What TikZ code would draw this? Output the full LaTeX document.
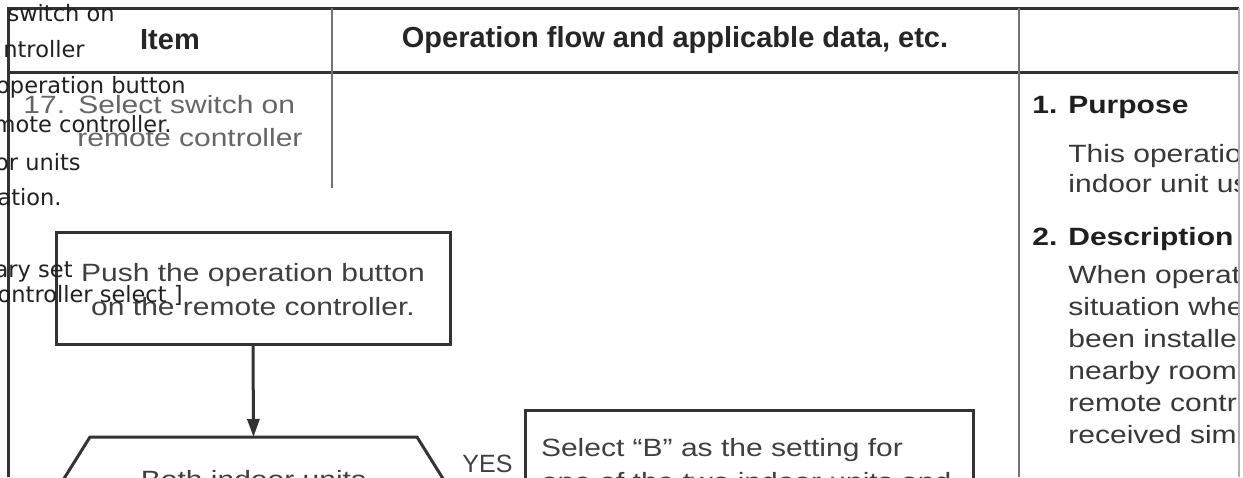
\documentclass[tikz,border=0pt]{standalone}
\usepackage{fontspec}
\setmainfont{Liberation Sans}
\newfontfamily\escaneo[FakeStretch=1.2]{Liberation Sans}
\newfontfamily\capa{DejaVu Sans}
\usepackage{tikz}
\usetikzlibrary{arrows.meta}
\definecolor{tinta}{HTML}{333333}
\tikzstyle{marco} = [draw=tinta, line width=1.5pt]
\tikzstyle{separador} = [draw=black!55, line width=1pt]
\tikzstyle{cabecera} = [font=\fontsize{14.5}{18}\selectfont\bfseries, text=black!85, inner sep=0pt]
\tikzstyle{texto} = [font=\escaneo\fontsize{12.5}{17}\selectfont, text=black!78, inner sep=0pt, anchor=base west]
\tikzstyle{apartado} = [font=\escaneo\fontsize{12.5}{17}\selectfont\bfseries, text=black!88, inner sep=0pt, anchor=base west]
\tikzstyle{caja} = [draw=tinta, line width=1.5pt, rectangle, outer sep=0pt, font=\escaneo\fontsize{12.5}{17}\selectfont, text=black!75]
\tikzstyle{decision} = [rectangle, outer sep=0pt, inner xsep=0pt, inner ysep=16.5pt, minimum width=163.5pt, text height=9pt, text depth=0pt, font=\escaneo\fontsize{12.5}{17}\selectfont, text=black!75]
\tikzstyle{flecha} = [draw=tinta, line width=1.5pt, -{Triangle[length=9pt,width=6pt]}]
\tikzstyle{fantasma} = [font=\capa\fontsize{11.25}{13}\selectfont, text=black!87, inner sep=0pt, anchor=base east]

\begin{document}
\begin{tikzpicture}[x=0.5pt,y=-0.5pt]
	\useasboundingbox (0,0) rectangle (1243,477);
	\fill[white] (0,0) rectangle (1243,477);
	\clip (0,0) rectangle (1243,477);

	% tabla
	\draw[marco] (8,477) -- (8,8) -- (1239,8);
	\draw[marco] (8,72) -- (1239,72);
	\draw[separador] (332,8) -- (332,188);
	\draw[separador] (1019,8) -- (1019,477);
	\draw[draw=black!30, line width=1pt] (1239,8) -- (1239,477);
	\node[cabecera] (item) at (170,40) {Item};
	\node[cabecera] (flujo) at (675,40) {Operation flow and applicable data, etc.};
	\node[texto, text=black!60] (sel1) at (23,113) {\makebox[27.5pt][l]{17.}Select switch on};
	\node[texto, text=black!60] (sel2) at (77,146) {remote controller};

	% diagrama
	\node[caja, anchor=north west, minimum width=197pt, minimum height=56pt, text height=27.6pt, align=center] (pulsar) at (56,232) {Push the operation button\\on the remote controller.};
	\node[decision, anchor=north] (ambas) at (253.5,437) {Both indoor units};
	\draw[marco] (ambas.north west) -- (ambas.north east) -- ++(37.5,60) -- ++(-37.5,60) -- ++(-327,0) -- ++(-37.5,-60) -- cycle;
	\draw[flecha] (pulsar.south) -- (ambas.north);
	\node[font=\fontsize{12.5}{15}\selectfont, text=black!75, inner sep=0pt, anchor=base west] (si) at (462,472) {YES};
	\node[caja, anchor=north west, text width=208pt, inner xsep=8pt, inner ysep=14pt, align=left] (elegir) at (525,410) {Select “B” as the setting for\\one of the two indoor units and};

	% columna derecha
	\begin{scope}
		\clip (1019,72) rectangle (1237,477);
		\node[apartado] (proposito) at (1032,113) {\makebox[18pt][l]{1.}Purpose};
		\node[texto] (prop1) at (1068,162) {This operatio};
		\node[texto] (prop2) at (1068,192) {indoor unit us};
		\node[apartado] (descripcion) at (1032,245) {\makebox[18pt][l]{2.}Description};
		\node[texto] (desc1) at (1068,283) {When operat};
		\node[texto] (desc2) at (1068,315) {situation whe};
		\node[texto] (desc3) at (1068,347) {been installe};
		\node[texto] (desc4) at (1068,379) {nearby room};
		\node[texto] (desc5) at (1068,411) {remote contr};
		\node[texto] (desc6) at (1068,443) {received sim};
	\end{scope}

	% texto superpuesto
	\node[fantasma] (capa1) at (115,21) {switch on};
	\node[fantasma] (capa2) at (85,57) {ntroller};
	\node[fantasma] (capa3) at (186,93) {operation button};
	\node[fantasma] (capa4) at (172,132) {mote controller.};
	\node[fantasma] (capa5) at (81,170) {or units};
	\node[fantasma] (capa6) at (62,205) {ation.};
	\node[fantasma] (capa7) at (73,277) {ary set};
	\node[fantasma] (capa8) at (183,302) {controller select ]};
\end{tikzpicture}
\end{document}
